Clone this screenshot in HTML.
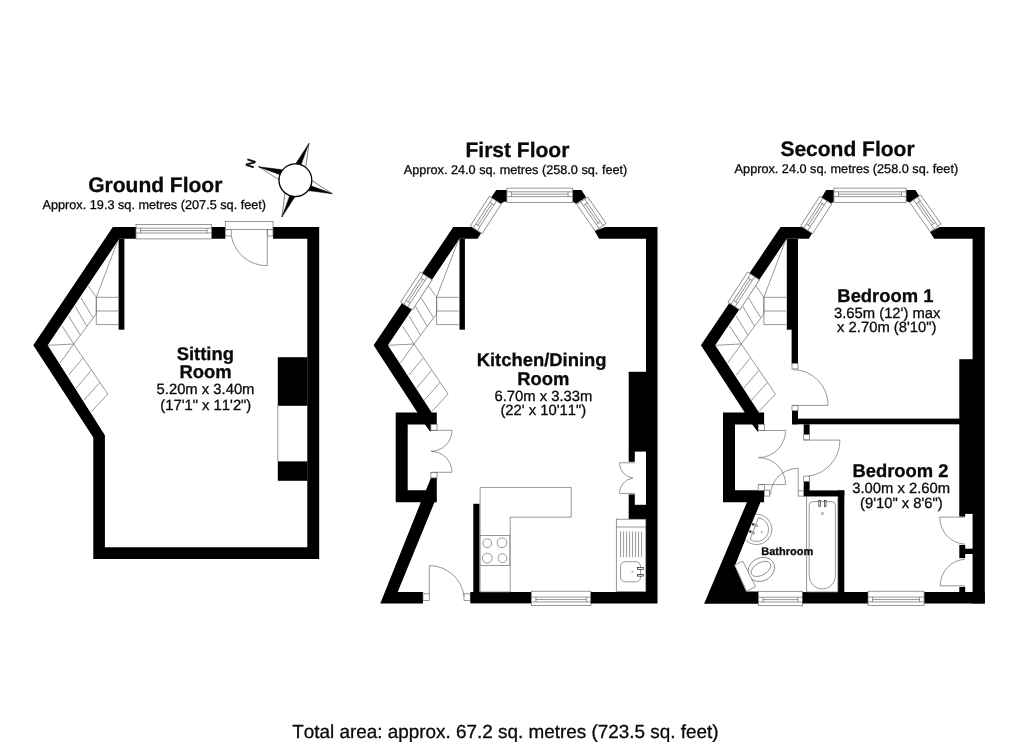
<!DOCTYPE html>
<html><head><meta charset="utf-8"><title>Floor plan</title>
<style>
html,body{margin:0;padding:0;background:#fff;}
body{width:1024px;height:744px;overflow:hidden;}
svg{display:block;font-family:"Liberation Sans",sans-serif;filter:grayscale(1);}
text{text-rendering:geometricPrecision;font-kerning:none;fill:#0a0a0a;stroke:#0a0a0a;stroke-width:0.3px;}
</style></head><body>
<svg width="1024" height="744" viewBox="0 0 1024 744">
<rect width="1024" height="744" fill="#fff"/>
<path fill="#000" fill-rule="evenodd" d="M112.8,227 L319.2,227 L319.2,559.1 L93.3,559.1 L93.3,437.5 L33.3,345.3 Z M119.2,238.8 L307.3,238.8 L307.3,547.2 L104.9,547.2 L104.9,435.3 L47.7,345.3 Z"/>
<rect x="118.6" y="238.8" width="5.8" height="90.9" fill="#000"/>
<rect x="277.8" y="357.2" width="29.7" height="48.6" fill="#000"/>
<rect x="277.8" y="461.4" width="29.7" height="19.4" fill="#000"/>
<line x1="277.8" y1="405.8" x2="277.8" y2="461.4" stroke="#6c6c6c" stroke-width="0.7"/>
<rect x="135.9" y="226.0" width="75.7" height="14.0" fill="#fff"/>
<g transform="translate(136.0,224.5) rotate(0.00)" fill="none" stroke="#6c6c6c" stroke-width="0.7"><rect x="0" y="0" width="75.6" height="14.4" fill="#fff"/><line x1="0" y1="3.7" x2="75.6" y2="3.7"/><line x1="0" y1="8.5" x2="75.6" y2="8.5"/><line x1="4.6" y1="6.1" x2="71.0" y2="6.1"/><line x1="4.6" y1="3.7" x2="4.6" y2="8.5"/><line x1="71.0" y1="3.7" x2="71.0" y2="8.5"/></g>
<rect x="225.3" y="226.0" width="47.7" height="14.0" fill="#fff"/>
<rect x="225.3" y="221.6" width="47.7" height="8.1" fill="#fff" stroke="#6c6c6c" stroke-width="0.7"/>
<rect x="225.3" y="229.7" width="5.9" height="6.3" fill="#fff" stroke="#6c6c6c" stroke-width="0.7"/>
<rect x="267.3" y="229.7" width="5.7" height="6.3" fill="#fff" stroke="#6c6c6c" stroke-width="0.7"/>
<line x1="267.3" y1="229.7" x2="267.3" y2="265.7" stroke="#6c6c6c" stroke-width="0.7"/>
<path d="M231.3,236 A36,36 0 0 0 267.3,265.7" fill="none" stroke="#6c6c6c" stroke-width="0.7" />
<path d="M73.7,344.0 L96.3,313.9 L96.3,297.3 L117.9,240.5" fill="none" stroke="#6c6c6c" stroke-width="0.7" />
<line x1="96.3" y1="297.3" x2="118.6" y2="297.3" stroke="#6c6c6c" stroke-width="0.7"/>
<line x1="96.3" y1="311.0" x2="118.6" y2="311.0" stroke="#6c6c6c" stroke-width="0.7"/>
<line x1="96.3" y1="324.6" x2="118.6" y2="324.6" stroke="#6c6c6c" stroke-width="0.7"/>
<line x1="96.3" y1="297.3" x2="96.3" y2="324.6" stroke="#6c6c6c" stroke-width="0.7"/>
<line x1="47.7" y1="345.3" x2="73.7" y2="344.0" stroke="#6c6c6c" stroke-width="0.7"/>
<line x1="62.0" y1="325.8" x2="73.7" y2="344.0" stroke="#6c6c6c" stroke-width="0.7"/>
<line x1="68.6" y1="315.8" x2="80.2" y2="335.0" stroke="#6c6c6c" stroke-width="0.7"/>
<line x1="75.2" y1="306.4" x2="86.7" y2="326.0" stroke="#6c6c6c" stroke-width="0.7"/>
<line x1="80.9" y1="297.9" x2="93.0" y2="317.5" stroke="#6c6c6c" stroke-width="0.7"/>
<line x1="88.0" y1="285.7" x2="96.3" y2="297.3" stroke="#6c6c6c" stroke-width="0.7"/>
<line x1="73.7" y1="344.0" x2="107.8" y2="394.0" stroke="#6c6c6c" stroke-width="0.7"/>
<line x1="60.1" y1="363.0" x2="73.7" y2="344.0" stroke="#6c6c6c" stroke-width="0.7"/>
<line x1="68.6" y1="375.1" x2="82.7" y2="358.2" stroke="#6c6c6c" stroke-width="0.7"/>
<line x1="76.1" y1="388.3" x2="91.2" y2="370.4" stroke="#6c6c6c" stroke-width="0.7"/>
<line x1="83.7" y1="400.5" x2="99.7" y2="382.6" stroke="#6c6c6c" stroke-width="0.7"/>
<line x1="91.2" y1="411.8" x2="107.8" y2="394.0" stroke="#6c6c6c" stroke-width="0.7"/>
<polygon points="258.6,166.7 279.0,179.9 280.0,174.5" fill="#fff" stroke="#000" stroke-width="0.5"/>
<polygon points="258.6,166.7 282.7,169.8 280.0,174.5" fill="#000" stroke="#000" stroke-width="0.5"/>
<polygon points="308.9,143.4 295.7,163.8 301.1,164.8" fill="#000" stroke="#000" stroke-width="0.5"/>
<polygon points="308.9,143.4 305.8,167.5 301.1,164.8" fill="#fff" stroke="#000" stroke-width="0.5"/>
<polygon points="332.2,193.7 311.8,180.5 310.8,185.9" fill="#fff" stroke="#000" stroke-width="0.5"/>
<polygon points="332.2,193.7 308.1,190.6 310.8,185.9" fill="#000" stroke="#000" stroke-width="0.5"/>
<polygon points="281.9,217.0 295.1,196.6 289.7,195.6" fill="#000" stroke="#000" stroke-width="0.5"/>
<polygon points="281.9,217.0 285.0,192.9 289.7,195.6" fill="#fff" stroke="#000" stroke-width="0.5"/>
<circle cx="295.4" cy="180.2" r="16.4" fill="#fff" stroke="#000" stroke-width="1.3"/>
<text x="250.6" y="163.3" font-size="12" font-weight="bold" text-anchor="middle" transform="rotate(-72 250.6 163.3)" dy="4.3">N</text>
<polygon points="453.3,227.0 471.3,227.0 481.0,233.2 477.6,238.8 459.5,238.8 387.9,345.3 431.7,412.6 430.9,412.6 430.9,431.6 430.3,431.6 417.4,412.6 373.6,345.3" fill="#000" />
<rect x="459.5" y="238.8" width="5.4" height="90.9" fill="#000"/>
<path fill="#000" fill-rule="evenodd" d="M395.7,412.6 L436.8,412.6 L436.8,502.2 L395.7,502.2 Z M407.7,424.4 L430.9,424.4 L430.9,490.3 L407.7,490.3 Z"/>
<rect x="430.0" y="424.4" width="7.0" height="53.5" fill="#fff"/>
<polygon points="424.7,423.9 430.9,423.9 430.9,431.6 430.3,431.6" fill="#000" />
<polygon points="430.9,477.9 431.6,477.9 431.6,491.0 425.6,491.0" fill="#000" />
<rect x="430.9" y="424.4" width="6.1" height="6.0" fill="#fff" stroke="#6c6c6c" stroke-width="0.7"/>
<rect x="430.9" y="472.3" width="6.1" height="5.6" fill="#fff" stroke="#6c6c6c" stroke-width="0.7"/>
<path d="M431.0,430.3 L452.0,430.3 A21.0,21.0 0 0 1 431.0,451.3" fill="none" stroke="#6c6c6c" stroke-width="0.7" />
<path d="M431.0,472.3 L452.0,472.3 A21.0,21.0 0 0 0 431.0,451.3" fill="none" stroke="#6c6c6c" stroke-width="0.7" />
<polygon points="421.2,501.2 434.9,501.2 397.7,592.0 423.0,592.0 423.0,603.6 380.3,603.6" fill="#000" />
<rect x="423.0" y="593.8" width="6.3" height="6.6" fill="#fff" stroke="#6c6c6c" stroke-width="0.7"/>
<rect x="464.0" y="593.8" width="6.3" height="6.6" fill="#fff" stroke="#6c6c6c" stroke-width="0.7"/>
<line x1="429.3" y1="565.6" x2="429.3" y2="593.8" stroke="#6c6c6c" stroke-width="0.7"/>
<path d="M429.3,565.6 A35,35 0 0 1 464.0,596.0" fill="none" stroke="#6c6c6c" stroke-width="0.7" />
<rect x="470.3" y="592.0" width="61.1" height="11.4" fill="#000"/>
<rect x="473.3" y="503.8" width="6.2" height="88.2" fill="#000"/>
<g transform="translate(590.9,605.6) rotate(180.00)" fill="none" stroke="#6c6c6c" stroke-width="0.7"><rect x="0" y="0" width="59.6" height="14.4" fill="#fff"/><line x1="0" y1="3.7" x2="59.6" y2="3.7"/><line x1="0" y1="8.5" x2="59.6" y2="8.5"/><line x1="4.6" y1="6.1" x2="55.0" y2="6.1"/><line x1="4.6" y1="3.7" x2="4.6" y2="8.5"/><line x1="55.0" y1="3.7" x2="55.0" y2="8.5"/></g>
<polygon points="605.1,226.9 657.5,226.9 657.5,603.4 590.8,603.4 590.8,592.0 646.0,592.0 646.0,238.8 599.2,238.8 594.6,231.0" fill="#000" />
<rect x="628.7" y="371.8" width="17.8" height="79.8" fill="#000"/>
<rect x="628.7" y="451.0" width="6.1" height="10.8" fill="#000"/>
<rect x="628.7" y="494.4" width="6.1" height="10.6" fill="#000"/>
<rect x="628.7" y="504.8" width="17.8" height="14.5" fill="#000"/>
<polygon points="496.3,190.1 506.9,190.1 506.9,201.7 504.0,201.7 500.5,203.9 491.1,197.6" fill="#000" />
<polygon points="572.7,190.1 581.5,190.1 586.1,197.2 576.1,203.8 572.7,201.6" fill="#000" />
<g transform="translate(506.9,188.1) rotate(0.00)" fill="none" stroke="#6c6c6c" stroke-width="0.7"><rect x="0" y="0" width="65.8" height="14.4" fill="#fff"/><line x1="0" y1="3.7" x2="65.8" y2="3.7"/><line x1="0" y1="8.5" x2="65.8" y2="8.5"/><line x1="4.6" y1="6.1" x2="61.2" y2="6.1"/><line x1="4.6" y1="3.7" x2="4.6" y2="8.5"/><line x1="61.2" y1="3.7" x2="61.2" y2="8.5"/></g>
<g transform="translate(470.3,225.9) rotate(-57.22)" fill="none" stroke="#6c6c6c" stroke-width="0.7"><rect x="0" y="0" width="35.1" height="14.2" fill="#fff"/><line x1="0" y1="3.7" x2="35.1" y2="3.7"/><line x1="0" y1="8.5" x2="35.1" y2="8.5"/><line x1="4.6" y1="6.1" x2="30.5" y2="6.1"/><line x1="4.6" y1="3.7" x2="4.6" y2="8.5"/><line x1="30.5" y1="3.7" x2="30.5" y2="8.5"/></g>
<g transform="translate(587.7,197.0) rotate(55.37)" fill="none" stroke="#6c6c6c" stroke-width="0.7"><rect x="0" y="0" width="32.2" height="13.2" fill="#fff"/><line x1="0" y1="3.7" x2="32.2" y2="3.7"/><line x1="0" y1="8.5" x2="32.2" y2="8.5"/><line x1="4.6" y1="6.1" x2="27.6" y2="6.1"/><line x1="4.6" y1="3.7" x2="4.6" y2="8.5"/><line x1="27.6" y1="3.7" x2="27.6" y2="8.5"/></g>
<g transform="translate(400.6,302.2) rotate(-56.80)" fill="none" stroke="#6c6c6c" stroke-width="0.7"><rect x="0" y="0" width="36.0" height="14.2" fill="#fff"/><line x1="0" y1="3.7" x2="36.0" y2="3.7"/><line x1="0" y1="8.5" x2="36.0" y2="8.5"/><line x1="4.6" y1="6.1" x2="31.4" y2="6.1"/><line x1="4.6" y1="3.7" x2="4.6" y2="8.5"/><line x1="31.4" y1="3.7" x2="31.4" y2="8.5"/></g>
<path d="M414.0,344.0 L436.6,313.9 L436.6,297.3 L458.2,240.5" fill="none" stroke="#6c6c6c" stroke-width="0.7" />
<line x1="436.6" y1="297.3" x2="458.9" y2="297.3" stroke="#6c6c6c" stroke-width="0.7"/>
<line x1="436.6" y1="311.0" x2="458.9" y2="311.0" stroke="#6c6c6c" stroke-width="0.7"/>
<line x1="436.6" y1="324.6" x2="458.9" y2="324.6" stroke="#6c6c6c" stroke-width="0.7"/>
<line x1="436.6" y1="297.3" x2="436.6" y2="324.6" stroke="#6c6c6c" stroke-width="0.7"/>
<line x1="388.0" y1="345.3" x2="414.0" y2="344.0" stroke="#6c6c6c" stroke-width="0.7"/>
<line x1="402.3" y1="325.8" x2="414.0" y2="344.0" stroke="#6c6c6c" stroke-width="0.7"/>
<line x1="408.9" y1="315.8" x2="420.5" y2="335.0" stroke="#6c6c6c" stroke-width="0.7"/>
<line x1="415.5" y1="306.4" x2="427.0" y2="326.0" stroke="#6c6c6c" stroke-width="0.7"/>
<line x1="421.2" y1="297.9" x2="433.3" y2="317.5" stroke="#6c6c6c" stroke-width="0.7"/>
<line x1="428.3" y1="285.7" x2="436.6" y2="297.3" stroke="#6c6c6c" stroke-width="0.7"/>
<line x1="414.0" y1="344.0" x2="448.1" y2="394.0" stroke="#6c6c6c" stroke-width="0.7"/>
<line x1="400.4" y1="363.0" x2="414.0" y2="344.0" stroke="#6c6c6c" stroke-width="0.7"/>
<line x1="408.9" y1="375.1" x2="423.0" y2="358.2" stroke="#6c6c6c" stroke-width="0.7"/>
<line x1="416.4" y1="388.3" x2="431.5" y2="370.4" stroke="#6c6c6c" stroke-width="0.7"/>
<line x1="424.0" y1="400.5" x2="440.0" y2="382.6" stroke="#6c6c6c" stroke-width="0.7"/>
<line x1="431.5" y1="411.8" x2="448.1" y2="394.0" stroke="#6c6c6c" stroke-width="0.7"/>
<path d="M634.8,462.8 L619.5,462.8 A15.3,15.3 0 0 0 632.8,478.1" fill="none" stroke="#6c6c6c" stroke-width="0.7" />
<path d="M634.8,493.4 L619.5,493.4 A15.3,15.3 0 0 1 632.8,478.1" fill="none" stroke="#6c6c6c" stroke-width="0.7" />
<path d="M480.1,487.4 L571.2,487.4 L571.2,517.2 L510.2,517.2 L510.2,592 L480.1,592 Z" fill="#fff" stroke="#6c6c6c" stroke-width="0.7" />
<rect x="480.1" y="535.6" width="29.7" height="29.8" fill="#fff" stroke="#6c6c6c" stroke-width="0.7"/>
<circle cx="487.3" cy="543.2" r="4.4" fill="none" stroke="#6c6c6c" stroke-width="0.7"/>
<circle cx="502.0" cy="542.8" r="4.9" fill="none" stroke="#6c6c6c" stroke-width="0.7"/>
<circle cx="487.3" cy="558.2" r="4.9" fill="none" stroke="#6c6c6c" stroke-width="0.7"/>
<circle cx="502.5" cy="558.2" r="4.4" fill="none" stroke="#6c6c6c" stroke-width="0.7"/>
<rect x="616.3" y="519.2" width="29.5" height="72.4" fill="#fff" stroke="#6c6c6c" stroke-width="0.7"/>
<line x1="616.3" y1="527.0" x2="645.8" y2="527.0" stroke="#6c6c6c" stroke-width="0.7"/>
<line x1="620.6" y1="531.5" x2="620.6" y2="557.2" stroke="#6c6c6c" stroke-width="0.7"/>
<line x1="623.6" y1="531.5" x2="623.6" y2="557.2" stroke="#6c6c6c" stroke-width="0.7"/>
<line x1="626.6" y1="531.5" x2="626.6" y2="557.2" stroke="#6c6c6c" stroke-width="0.7"/>
<line x1="629.6" y1="531.5" x2="629.6" y2="557.2" stroke="#6c6c6c" stroke-width="0.7"/>
<line x1="632.6" y1="531.5" x2="632.6" y2="557.2" stroke="#6c6c6c" stroke-width="0.7"/>
<line x1="635.6" y1="531.5" x2="635.6" y2="557.2" stroke="#6c6c6c" stroke-width="0.7"/>
<line x1="638.6" y1="531.5" x2="638.6" y2="557.2" stroke="#6c6c6c" stroke-width="0.7"/>
<line x1="641.6" y1="531.5" x2="641.6" y2="557.2" stroke="#6c6c6c" stroke-width="0.7"/>
<rect x="620.6" y="561.7" width="19.9" height="20.1" rx="4.5" fill="#fff" stroke="#6c6c6c" stroke-width="0.7"/>
<rect x="637.5" y="567.6" width="5.8" height="1.7" fill="#fff" stroke="#222" stroke-width="0.7"/>
<rect x="637.5" y="574.4" width="5.8" height="1.7" fill="#fff" stroke="#222" stroke-width="0.7"/>
<circle cx="632.2" cy="571.7" r="0.7" fill="#6c6c6c"/>
<polygon points="780.6,227.0 802.2,227.0 812.1,233.2 808.8,238.8 786.8,238.8 715.2,345.3 759.0,412.6 758.2,412.6 758.2,431.6 757.6,431.6 744.7,412.6 700.9,345.3" fill="#000" />
<rect x="786.8" y="238.8" width="5.4" height="90.9" fill="#000"/>
<rect x="791.6" y="238.8" width="6.4" height="124.7" fill="#000"/>
<path fill="#000" fill-rule="evenodd" d="M723.0,412.6 L764.1,412.6 L764.1,502.2 L723.0,502.2 Z M735.0,424.4 L758.2,424.4 L758.2,490.3 L735.0,490.3 Z"/>
<rect x="758.0" y="424.4" width="7.0" height="65.9" fill="#fff"/>
<polygon points="752.0,423.9 758.2,423.9 758.2,431.6 757.6,431.6" fill="#000" />
<rect x="758.2" y="424.4" width="6.1" height="6.0" fill="#fff" stroke="#6c6c6c" stroke-width="0.7"/>
<rect x="758.2" y="484.7" width="6.1" height="5.6" fill="#fff" stroke="#6c6c6c" stroke-width="0.7"/>
<path d="M758.6,430.5 L785.6,430.5 A27.1,27.1 0 0 1 758.6,457.6" fill="none" stroke="#6c6c6c" stroke-width="0.7" />
<path d="M758.6,484.6 L785.6,484.6 A27.1,27.1 0 0 0 758.6,457.6" fill="none" stroke="#6c6c6c" stroke-width="0.7" />
<polygon points="747.4,501.2 760.7,501.2 734.8,565.6 746.1,591.4 758.4,591.4 758.4,603.7 704.1,603.7" fill="#000" />
<g transform="translate(802.6,605.7) rotate(180.00)" fill="none" stroke="#6c6c6c" stroke-width="0.7"><rect x="0" y="0" width="44.2" height="14.4" fill="#fff"/><line x1="0" y1="3.7" x2="44.2" y2="3.7"/><line x1="0" y1="8.5" x2="44.2" y2="8.5"/><line x1="4.6" y1="6.1" x2="39.6" y2="6.1"/><line x1="4.6" y1="3.7" x2="4.6" y2="8.5"/><line x1="39.6" y1="3.7" x2="39.6" y2="8.5"/></g>
<rect x="802.6" y="592.0" width="65.4" height="11.5" fill="#000"/>
<rect x="924.1" y="592.0" width="60.7" height="11.5" fill="#000"/>
<g transform="translate(924.1,605.6) rotate(180.00)" fill="none" stroke="#6c6c6c" stroke-width="0.7"><rect x="0" y="0" width="56.1" height="14.4" fill="#fff"/><line x1="0" y1="3.7" x2="56.1" y2="3.7"/><line x1="0" y1="8.5" x2="56.1" y2="8.5"/><line x1="4.6" y1="6.1" x2="51.5" y2="6.1"/><line x1="4.6" y1="3.7" x2="4.6" y2="8.5"/><line x1="51.5" y1="3.7" x2="51.5" y2="8.5"/></g>
<polygon points="939.6,226.9 984.8,226.9 984.8,603.5 972.6,603.5 972.6,238.8 934.2,238.8 930.0,232.1" fill="#000" />
<rect x="959.3" y="359.2" width="13.7" height="154.7" fill="#000"/>
<rect x="959.3" y="513.0" width="5.9" height="3.7" fill="#000"/>
<rect x="959.3" y="544.9" width="5.9" height="13.2" fill="#000"/>
<rect x="965.0" y="548.7" width="8.0" height="5.3" fill="#000"/>
<rect x="959.3" y="586.9" width="5.9" height="5.6" fill="#000"/>
<rect x="792.0" y="418.6" width="181.0" height="5.7" fill="#000"/>
<rect x="792.0" y="410.7" width="6.0" height="13.6" fill="#000"/>
<rect x="792.0" y="363.5" width="6.0" height="5.4" fill="#fff" stroke="#6c6c6c" stroke-width="0.7"/>
<rect x="792.0" y="405.4" width="6.0" height="5.3" fill="#fff" stroke="#6c6c6c" stroke-width="0.7"/>
<line x1="792.5" y1="405.4" x2="828.1" y2="405.4" stroke="#6c6c6c" stroke-width="0.7"/>
<path d="M828.1,405.4 A35.5,35.5 0 0 0 793.0,369.6" fill="none" stroke="#6c6c6c" stroke-width="0.7" />
<rect x="803.7" y="424.3" width="5.9" height="10.4" fill="#000"/>
<rect x="803.7" y="481.3" width="5.9" height="14.9" fill="#000"/>
<rect x="803.7" y="434.7" width="5.9" height="5.2" fill="#fff" stroke="#6c6c6c" stroke-width="0.7"/>
<rect x="803.7" y="476.1" width="5.9" height="5.2" fill="#fff" stroke="#6c6c6c" stroke-width="0.7"/>
<line x1="803.7" y1="440.1" x2="839.9" y2="440.1" stroke="#6c6c6c" stroke-width="0.7"/>
<path d="M839.9,440.1 A36,36 0 0 1 808.5,476.1" fill="none" stroke="#6c6c6c" stroke-width="0.7" />
<rect x="803.7" y="490.4" width="40.6" height="5.9" fill="#000"/>
<rect x="837.7" y="490.4" width="6.6" height="102.1" fill="#000"/>
<rect x="764.4" y="490.2" width="5.3" height="5.9" fill="#fff" stroke="#6c6c6c" stroke-width="0.7"/>
<rect x="798.2" y="490.9" width="5.5" height="5.2" fill="#fff" stroke="#6c6c6c" stroke-width="0.7"/>
<line x1="798.2" y1="468.3" x2="798.2" y2="490.9" stroke="#6c6c6c" stroke-width="0.7"/>
<path d="M798.2,468.3 A27.8,27.8 0 0 0 770.4,494.6" fill="none" stroke="#6c6c6c" stroke-width="0.7" />
<rect x="806.7" y="496.6" width="31.2" height="95.4" fill="#fff" stroke="#6c6c6c" stroke-width="0.7"/>
<path d="M813.0,501.6 L831.6,501.6 Q835.4,501.6 835.4,505.4 L835.4,575.8 A13.1,13.3 0 0 1 809.2,575.8 L809.2,505.4 Q809.2,501.6 813.0,501.6 Z" fill="none" stroke="#6c6c6c" stroke-width="0.7" />
<rect x="818.8" y="500.6" width="1.5" height="5.8" fill="#fff" stroke="#222" stroke-width="0.7"/>
<rect x="824.5" y="500.6" width="1.5" height="5.8" fill="#fff" stroke="#222" stroke-width="0.7"/>
<circle cx="822.5" cy="513.5" r="1.1" fill="none" stroke="#6c6c6c" stroke-width="0.7"/>
<path d="M965.2,517.1 L939.8,517.1 A25.6,26.9 0 0 0 964.6,544.0" fill="none" stroke="#6c6c6c" stroke-width="0.7" />
<path d="M965.2,585.8 L940.3,585.8 A25.2,26.4 0 0 1 964.8,559.4" fill="none" stroke="#6c6c6c" stroke-width="0.7" />
<polygon points="826.1,190.1 833.9,190.1 833.9,201.7 831.0,203.4 821.7,197.4" fill="#000" />
<polygon points="906.1,190.1 915.4,190.1 919.2,196.1 909.2,202.6 906.1,201.0" fill="#000" />
<g transform="translate(833.9,188.1) rotate(0.00)" fill="none" stroke="#6c6c6c" stroke-width="0.7"><rect x="0" y="0" width="72.2" height="14.4" fill="#fff"/><line x1="0" y1="3.7" x2="72.2" y2="3.7"/><line x1="0" y1="8.5" x2="72.2" y2="8.5"/><line x1="4.6" y1="6.1" x2="67.6" y2="6.1"/><line x1="4.6" y1="3.7" x2="4.6" y2="8.5"/><line x1="67.6" y1="3.7" x2="67.6" y2="8.5"/></g>
<g transform="translate(800.7,225.9) rotate(-57.22)" fill="none" stroke="#6c6c6c" stroke-width="0.7"><rect x="0" y="0" width="35.1" height="14.2" fill="#fff"/><line x1="0" y1="3.7" x2="35.1" y2="3.7"/><line x1="0" y1="8.5" x2="35.1" y2="8.5"/><line x1="4.6" y1="6.1" x2="30.5" y2="6.1"/><line x1="4.6" y1="3.7" x2="4.6" y2="8.5"/><line x1="30.5" y1="3.7" x2="30.5" y2="8.5"/></g>
<g transform="translate(920.6,195.0) rotate(54.88)" fill="none" stroke="#6c6c6c" stroke-width="0.7"><rect x="0" y="0" width="35.5" height="13.2" fill="#fff"/><line x1="0" y1="3.7" x2="35.5" y2="3.7"/><line x1="0" y1="8.5" x2="35.5" y2="8.5"/><line x1="4.6" y1="6.1" x2="30.9" y2="6.1"/><line x1="4.6" y1="3.7" x2="4.6" y2="8.5"/><line x1="30.9" y1="3.7" x2="30.9" y2="8.5"/></g>
<g transform="translate(727.9,302.2) rotate(-56.80)" fill="none" stroke="#6c6c6c" stroke-width="0.7"><rect x="0" y="0" width="36.0" height="14.2" fill="#fff"/><line x1="0" y1="3.7" x2="36.0" y2="3.7"/><line x1="0" y1="8.5" x2="36.0" y2="8.5"/><line x1="4.6" y1="6.1" x2="31.4" y2="6.1"/><line x1="4.6" y1="3.7" x2="4.6" y2="8.5"/><line x1="31.4" y1="3.7" x2="31.4" y2="8.5"/></g>
<path d="M741.3,344.0 L763.9,313.9 L763.9,297.3 L785.5,240.5" fill="none" stroke="#6c6c6c" stroke-width="0.7" />
<line x1="763.9" y1="297.3" x2="786.2" y2="297.3" stroke="#6c6c6c" stroke-width="0.7"/>
<line x1="763.9" y1="311.0" x2="786.2" y2="311.0" stroke="#6c6c6c" stroke-width="0.7"/>
<line x1="763.9" y1="324.6" x2="786.2" y2="324.6" stroke="#6c6c6c" stroke-width="0.7"/>
<line x1="763.9" y1="297.3" x2="763.9" y2="324.6" stroke="#6c6c6c" stroke-width="0.7"/>
<line x1="715.3" y1="345.3" x2="741.3" y2="344.0" stroke="#6c6c6c" stroke-width="0.7"/>
<line x1="729.6" y1="325.8" x2="741.3" y2="344.0" stroke="#6c6c6c" stroke-width="0.7"/>
<line x1="736.2" y1="315.8" x2="747.8" y2="335.0" stroke="#6c6c6c" stroke-width="0.7"/>
<line x1="742.8" y1="306.4" x2="754.3" y2="326.0" stroke="#6c6c6c" stroke-width="0.7"/>
<line x1="748.5" y1="297.9" x2="760.6" y2="317.5" stroke="#6c6c6c" stroke-width="0.7"/>
<line x1="755.6" y1="285.7" x2="763.9" y2="297.3" stroke="#6c6c6c" stroke-width="0.7"/>
<line x1="741.3" y1="344.0" x2="775.4" y2="394.0" stroke="#6c6c6c" stroke-width="0.7"/>
<line x1="727.7" y1="363.0" x2="741.3" y2="344.0" stroke="#6c6c6c" stroke-width="0.7"/>
<line x1="736.2" y1="375.1" x2="750.3" y2="358.2" stroke="#6c6c6c" stroke-width="0.7"/>
<line x1="743.7" y1="388.3" x2="758.8" y2="370.4" stroke="#6c6c6c" stroke-width="0.7"/>
<line x1="751.3" y1="400.5" x2="767.3" y2="382.6" stroke="#6c6c6c" stroke-width="0.7"/>
<line x1="758.8" y1="411.8" x2="775.4" y2="394.0" stroke="#6c6c6c" stroke-width="0.7"/>
<g fill="#fff" stroke="#6c6c6c" stroke-width="0.7">
<circle cx="756.6" cy="529.4" r="15.3"/>
<path d="M758.4,517.8 A11.9,11.9 0 1 1 750.1,539.5 Z"/>
</g>
<g fill="#fff" stroke="#333" stroke-width="0.6"><polygon points="752.6,523.4 757.6,525.3 757.1,526.7 752.1,524.8"/><polygon points="749.8,530.7 754.5,532.5 754.0,533.9 749.3,532.1"/></g>
<circle cx="753.0" cy="524.2" r="1.0" fill="#222"/><circle cx="750.2" cy="531.4" r="1.0" fill="#222"/>
<circle cx="761.7" cy="532.1" r="0.8" fill="none" stroke="#6c6c6c" stroke-width="0.5"/>
<polygon points="747.4,501.2 760.7,501.2 734.8,565.6 730.0,565.6" fill="#000" />
<g fill="#fff" stroke="#6c6c6c" stroke-width="0.7">
<ellipse cx="761.3" cy="569.4" rx="13.9" ry="11.5" transform="rotate(-30 761.3 569.4)"/>
<ellipse cx="761.0" cy="568.9" rx="10.8" ry="6.2" transform="rotate(-30 761.0 568.9)"/>
<polygon points="734.5,565.0 742.8,561.2 755.5,586.7 746.6,591.2"/>
</g>
<text x="155.3" y="191.9" font-size="21" font-weight="bold" text-anchor="middle">Ground Floor</text>
<text x="154.3" y="209.4" font-size="12.7" text-anchor="middle">Approx. 19.3 sq. metres (207.5 sq. feet)</text>
<text x="517.4" y="156.6" font-size="21" font-weight="bold" text-anchor="middle">First Floor</text>
<text x="515.5" y="173.7" font-size="12.7" text-anchor="middle">Approx. 24.0 sq. metres (258.0 sq. feet)</text>
<text x="847.5" y="155.8" font-size="21" font-weight="bold" text-anchor="middle">Second Floor</text>
<text x="846.4" y="172.9" font-size="12.7" text-anchor="middle">Approx. 24.0 sq. metres (258.0 sq. feet)</text>
<text x="205.3" y="359.7" font-size="18.4" font-weight="bold" text-anchor="middle">Sitting</text>
<text x="205.6" y="378.4" font-size="18.4" font-weight="bold" text-anchor="middle">Room</text>
<text x="205.5" y="394.4" font-size="14.8" text-anchor="middle">5.20m x 3.40m</text>
<text x="205.8" y="409.7" font-size="14.8" text-anchor="middle">(17&#39;1&quot; x 11&#39;2&quot;)</text>
<text x="541.6" y="365.8" font-size="18.4" font-weight="bold" text-anchor="middle">Kitchen/Dining</text>
<text x="543.3" y="384.5" font-size="18.4" font-weight="bold" text-anchor="middle">Room</text>
<text x="543.4" y="400.6" font-size="14.8" text-anchor="middle">6.70m x 3.33m</text>
<text x="543.3" y="415.2" font-size="14.8" text-anchor="middle">(22&#39; x 10&#39;11&quot;)</text>
<text x="885.4" y="301.6" font-size="18.4" font-weight="bold" text-anchor="middle">Bedroom 1</text>
<text x="887.2" y="317.5" font-size="14.8" text-anchor="middle">3.65m (12&#39;) max</text>
<text x="886.8" y="332.3" font-size="14.8" text-anchor="middle">x 2.70m (8&#39;10&quot;)</text>
<text x="900.5" y="477.3" font-size="18.4" font-weight="bold" text-anchor="middle">Bedroom 2</text>
<text x="901.1" y="493.2" font-size="14.8" text-anchor="middle">3.00m x 2.60m</text>
<text x="901.4" y="508.4" font-size="14.8" text-anchor="middle">(9&#39;10&quot; x 8&#39;6&quot;)</text>
<text x="787.2" y="554.6" font-size="11" font-weight="bold" text-anchor="middle">Bathroom</text>
<text x="505.3" y="737.7" font-size="18.9" text-anchor="middle">Total area: approx. 67.2 sq. metres (723.5 sq. feet)</text>
</svg>
</body></html>
